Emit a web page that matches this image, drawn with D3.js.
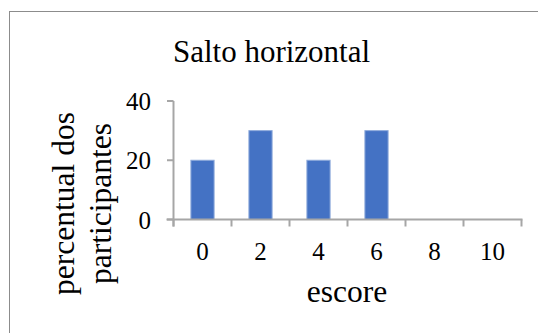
<!DOCTYPE html>
<html lang="pt">
<head>
<meta charset="utf-8">
<title>Salto horizontal</title>
<script src="https://d3js.org/d3.v7.min.js"></script>
<style>
body { margin: 0; background: #fff; }
text { font-family: "Liberation Serif", "Times New Roman", serif; fill: #000; }
</style>
</head>
<body>
<script type="text/javascript">
var w = 538;
var h = 333;

// data
var scores = ["0", "2", "4", "6", "8", "10"];
var percents = [20, 30, 20, 30, 0, 0];
var yTicks = [0, 20, 40];

var titleText = "Salto horizontal";
var xTitle = "escore";
var yTitle = ["percentual dos", "participantes"];

var svg = d3.select("body")
            .append("svg")
            .attr("width", w)
            .attr("height", h);

// outer frame (runs off the right / bottom edge)
svg.append("rect")
   .attr("x", 9.5)
   .attr("y", 11.5)
   .attr("width", w)
   .attr("height", h)
   .attr("fill", "none")
   .attr("stroke", "#8c8c8c")
   .attr("stroke-width", 1);

var xScale = d3.scaleBand()
               .domain(scores)
               .range([173.5, 521.5])
               .paddingInner(0.6)
               .paddingOuter(0.3);

var yScale = d3.scaleLinear()
               .domain([0, 40])
               .range([219.5, 101]);

var axisColor = "#a6a6a6";

// bars
svg.selectAll("rect.bar")
   .data(percents)
   .enter()
   .append("rect")
   .attr("class", "bar")
   .attr("x", function(d, i) { return xScale(scores[i]); })
   .attr("y", function(d) { return yScale(d); })
   .attr("width", xScale.bandwidth())
   .attr("height", function(d) { return yScale(0) - yScale(d); })
   .attr("fill", "#4472c4")
   .attr("stroke", "#8eaadb")
   .attr("stroke-width", 1)
   .attr("display", function(d) { return d > 0 ? null : "none"; });

// y axis line + ticks
svg.append("line")
   .attr("x1", 173.5).attr("x2", 173.5)
   .attr("y1", yScale(40)).attr("y2", yScale(0) + 7)
   .attr("stroke", axisColor).attr("stroke-width", 2);

svg.selectAll("line.ytick")
   .data(yTicks)
   .enter()
   .append("line")
   .attr("class", "ytick")
   .attr("x1", 167).attr("x2", 173.5)
   .attr("y1", function(d) { return yScale(d); })
   .attr("y2", function(d) { return yScale(d); })
   .attr("stroke", axisColor).attr("stroke-width", 2);

svg.selectAll("text.ylab")
   .data(yTicks)
   .enter()
   .append("text")
   .attr("class", "ylab")
   .attr("x", 151)
   .attr("y", function(d) { return yScale(d) + 9; })
   .attr("text-anchor", "end")
   .attr("font-size", "25px")
   .text(function(d) { return d; });

// x axis line + ticks at band boundaries
var x0 = xScale.range()[0];
var x1 = xScale.range()[1];
svg.append("line")
   .attr("x1", x0 - 7).attr("x2", x1 + 1)
   .attr("y1", yScale(0)).attr("y2", yScale(0))
   .attr("stroke", axisColor).attr("stroke-width", 2);

var boundaries = d3.range(scores.length + 1).map(function(i) { return x0 + i * xScale.step(); });
svg.selectAll("line.xtick")
   .data(boundaries)
   .enter()
   .append("line")
   .attr("class", "xtick")
   .attr("x1", function(d) { return d; })
   .attr("x2", function(d) { return d; })
   .attr("y1", yScale(0))
   .attr("y2", yScale(0) + 7)
   .attr("stroke", axisColor).attr("stroke-width", 2);

svg.selectAll("text.xlab")
   .data(scores)
   .enter()
   .append("text")
   .attr("class", "xlab")
   .attr("x", function(d) { return xScale(d) + xScale.bandwidth() / 2; })
   .attr("y", 260)
   .attr("text-anchor", "middle")
   .attr("font-size", "25px")
   .text(function(d) { return d; });

// titles
svg.append("text")
   .attr("x", 271.5)
   .attr("y", 62)
   .attr("text-anchor", "middle")
   .attr("font-size", "31px")
   .text(titleText);

svg.append("text")
   .attr("x", 347)
   .attr("y", 302)
   .attr("text-anchor", "middle")
   .attr("font-size", "31.5px")
   .text(xTitle);

svg.selectAll("text.ytitle")
   .data(yTitle)
   .enter()
   .append("text")
   .attr("class", "ytitle")
   .attr("transform", function(d, i) { return "translate(" + (74 + i * 37) + ",203.5) rotate(-90)"; })
   .attr("text-anchor", "middle")
   .attr("font-size", "31.5px")
   .text(function(d) { return d; });
</script>
</body>
</html>
